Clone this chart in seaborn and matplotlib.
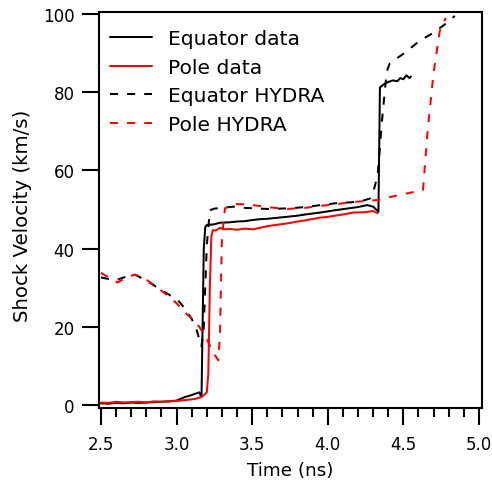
import numpy as np
import pandas as pd
import matplotlib
matplotlib.use("Agg")
import matplotlib.pyplot as plt
import seaborn as sns
from matplotlib.ticker import MultipleLocator

# ---- data ----
eq_data_t = [2.50, 2.55, 2.60, 2.65, 2.70, 2.75, 2.80, 2.85, 2.90, 2.95, 3.00, 3.055, 3.10, 3.12, 3.15,
             3.165, 3.172, 3.18, 3.19, 3.20, 3.25, 3.287, 3.35, 3.40, 3.45, 3.507, 3.55, 3.60, 3.65, 3.728,
             3.80, 3.85, 3.95, 4.00, 4.05, 4.125, 4.20, 4.26, 4.30, 4.33, 4.335, 4.34, 4.345, 4.37, 4.40,
             4.43, 4.46, 4.48, 4.50, 4.52, 4.54, 4.55]
eq_data_v = [0.4, 0.3, 0.5, 0.4, 0.6, 0.5, 0.6, 0.7, 0.8, 0.9, 1.1, 2.0, 2.5, 2.8, 3.2,
             2.0, 20.0, 40.0, 45.5, 46.0, 46.2, 46.6, 46.7, 46.9, 47.0, 47.3, 47.5, 47.6, 47.8, 48.1,
             48.4, 48.7, 49.2, 49.5, 49.8, 50.2, 50.6, 51.1, 50.7, 49.6, 49.4, 65.0, 81.2, 82.0, 82.6,
             83.0, 82.8, 83.6, 83.3, 84.3, 83.6, 84.0]

pole_data_t = [2.50, 2.55, 2.60, 2.65, 2.70, 2.75, 2.80, 2.85, 2.90, 2.95, 3.00, 3.05, 3.12, 3.165, 3.20,
               3.21, 3.22, 3.23, 3.24, 3.26, 3.287, 3.32, 3.35, 3.40, 3.45, 3.507, 3.55, 3.60, 3.65, 3.728,
               3.80, 3.85, 3.95, 4.00, 4.05, 4.10, 4.17, 4.25, 4.30, 4.33]
pole_data_v = [0.6, 0.5, 0.8, 0.6, 0.7, 0.8, 0.6, 0.9, 0.8, 0.9, 1.0, 1.2, 1.5, 2.0, 3.2,
               8.0, 30.0, 43.0, 44.7, 44.6, 45.3, 44.9, 45.0, 44.8, 45.1, 44.9, 45.3, 45.7, 46.0, 46.4,
               46.9, 47.2, 47.9, 48.1, 48.4, 48.7, 49.2, 49.3, 49.6, 49.0]

eq_hydra_t = [2.50, 2.55, 2.60, 2.65, 2.725, 2.80, 2.85, 2.90, 2.95, 3.01, 3.05, 3.10, 3.13, 3.165,
              3.18, 3.20, 3.22, 3.25, 3.30, 3.375, 3.45, 3.55, 3.62, 3.75, 3.85, 3.95, 4.08, 4.15, 4.22,
              4.28, 4.30, 4.33, 4.36, 4.39, 4.41, 4.50, 4.61, 4.70, 4.78, 4.84]
eq_hydra_v = [32.6, 32.2, 31.9, 32.6, 33.3, 31.8, 30.6, 29.3, 28.2, 26.7, 24.9, 22.0, 19.5, 15.0,
              20.0, 40.8, 49.8, 50.2, 50.4, 50.7, 50.4, 50.2, 50.1, 50.3, 50.6, 51.1, 51.7, 51.8, 52.1,
              52.8, 54.3, 58.8, 73.3, 85.3, 87.4, 89.8, 93.2, 95.2, 97.5, 99.5]

pole_hydra_t = [2.50, 2.55, 2.61, 2.66, 2.72, 2.78, 2.83, 2.88, 2.94, 3.00, 3.05, 3.11, 3.15, 3.20,
                3.24, 3.276, 3.287, 3.30, 3.32, 3.375, 3.45, 3.507, 3.60, 3.728, 3.85, 3.95, 4.05, 4.17,
                4.33, 4.45, 4.55, 4.63, 4.66, 4.70, 4.74, 4.78]
pole_hydra_v = [33.8, 32.6, 31.3, 32.4, 33.3, 32.6, 31.2, 29.8, 28.0, 26.0, 23.8, 21.8, 20.0, 16.9,
                13.5, 11.4, 17.8, 42.6, 50.3, 51.4, 51.3, 51.1, 50.6, 50.1, 50.4, 50.9, 51.3, 51.9,
                52.4, 53.5, 54.3, 55.0, 70.0, 85.0, 95.5, 99.0]

series_names = ["Equator data", "Pole data", "Equator HYDRA", "Pole HYDRA"]
series_colors = ["#000000", "#ff0000", "#000000", "#ff0000"]
x_ticks = [2.5, 3.0, 3.5, 4.0, 4.5, 5.0]
y_ticks = [0, 20, 40, 60, 80, 100]

frames = []
for name, t, v in zip(series_names,
                      [eq_data_t, pole_data_t, eq_hydra_t, pole_hydra_t],
                      [eq_data_v, pole_data_v, eq_hydra_v, pole_hydra_v]):
    frames.append(pd.DataFrame({"t": t, "v": v, "series": name}))
df = pd.concat(frames, ignore_index=True)

sns.set_style("ticks")
plt.rcParams['font.family'] = ['DejaVu Sans']
plt.rcParams['text.color'] = 'black'
plt.rcParams['axes.labelcolor'] = 'black'
plt.rcParams['xtick.color'] = 'black'
plt.rcParams['ytick.color'] = 'black'

fig = plt.figure(figsize=(4.92, 4.85), dpi=100)
ax = fig.add_axes([99/492, 1 - 409/485, 383/492, 396/485])

sns.lineplot(data=df, x="t", y="v", hue="series", style="series",
             hue_order=series_names, style_order=series_names,
             palette=dict(zip(series_names, series_colors)),
             dashes={"Equator data": "", "Pole data": "",
                     "Equator HYDRA": (4, 4.5), "Pole HYDRA": (4, 4.5)},
             estimator=None, sort=False, linewidth=1.45, legend=False, ax=ax)

ax.set_xlim(2.487, 5.02)
ax.set_ylim(-0.8, 100.5)
ax.set_xticks(x_ticks)
ax.set_xticklabels([f"{x:.1f}" for x in x_ticks])
ax.set_yticks(y_ticks)
ax.xaxis.set_minor_locator(MultipleLocator(0.1))

for sp in ax.spines.values():
    sp.set_linewidth(1.5)
    sp.set_color("black")
ax.tick_params(axis="both", which="major", direction="out", length=12, width=1.5,
               labelsize=12, colors="black")
ax.tick_params(axis="x", which="major", pad=7.5)
ax.tick_params(axis="y", which="major", pad=5.5)
ax.tick_params(axis="x", which="minor", direction="out", length=6.5, width=1.5, colors="black")

ax.set_xlabel("Time (ns)", fontsize=13.2, color="black")
ax.set_ylabel("Shock Velocity (km/s)", fontsize=14.2, color="black")
ax.xaxis.set_label_coords(0.5, -0.133)
ax.yaxis.set_label_coords(-0.201, 0.488)
ax.yaxis.label.set_va("center")

handles = ax.get_lines()[:4]
leg = ax.legend(handles, series_names, loc="upper left", frameon=False, fontsize=14.6,
                handlelength=2.07, handletextpad=0.8, labelspacing=0.47,
                borderaxespad=0.15, bbox_to_anchor=(0.0, 0.985))
for txt in leg.get_texts():
    txt.set_color("black")

fig.savefig("out.png", dpi=100)
